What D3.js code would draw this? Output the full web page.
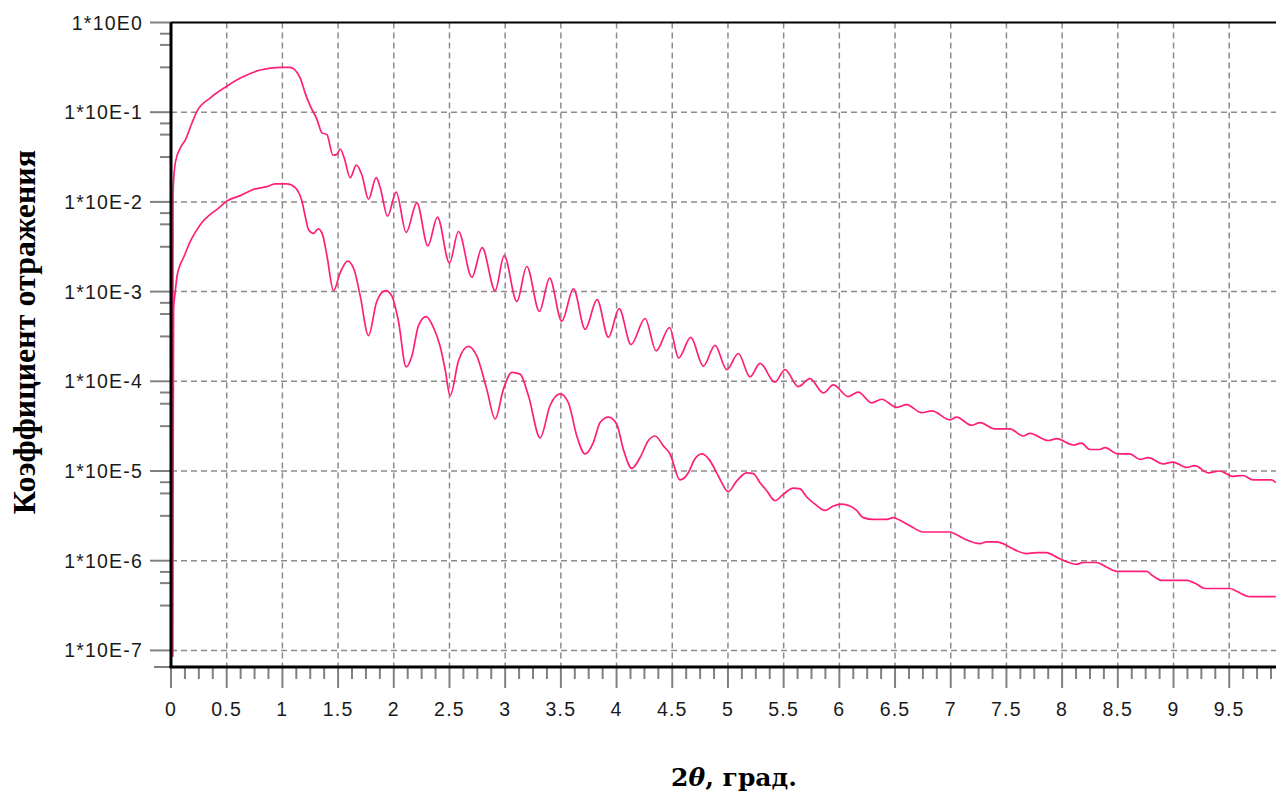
<!DOCTYPE html>
<html>
<head>
<meta charset="utf-8">
<title>Коэффициент отражения</title>
<script src="https://d3js.org/d3.v7.min.js"></script>
<style>
    body { margin: 0; background: #ffffff; }
    .tick-label {
        font-family: "Liberation Sans", Arial, sans-serif;
        font-size: 19.5px;
        letter-spacing: 1.2px;
        fill: #1a1a1a;
    }
    .y-title {
        font-family: "Liberation Serif", "Times New Roman", serif;
        font-weight: bold;
        font-size: 32px;
        fill: #000;
    }
    .x-title {
        font-family: "DejaVu Serif", serif;
        font-weight: bold;
        font-size: 25px;
        fill: #000;
    }
</style>
</head>
<body>
<svg id="chart" width="1276" height="795"></svg>
<script>
// angle 2θ (deg) and log10 of reflectivity
var angleUpper = [0.014,0.018,0.039,0.083,0.128,0.188,0.233,0.353,0.502,0.622,
    0.801,0.981,1.070,1.160,1.205,1.250,1.310,1.355,1.400,1.454,
    1.490,1.519,1.555,1.609,1.663,1.714,1.773,1.842,1.878,1.944,
    2.022,2.111,2.207,2.306,2.392,2.500,2.581,2.701,2.793,2.910,
    2.991,3.105,3.194,3.307,3.399,3.508,3.613,3.718,3.825,3.927,
    4.023,4.130,4.256,4.355,4.476,4.557,4.666,4.779,4.884,4.989,
    5.093,5.198,5.288,5.422,5.512,5.631,5.736,5.856,5.946,6.080,
    6.170,6.290,6.380,6.514,6.604,6.739,6.831,6.993,7.053,7.187,
    7.262,7.396,7.531,7.650,7.711,7.875,7.950,8.099,8.174,8.249,
    8.339,8.384,8.503,8.608,8.698,8.772,8.907,8.996,9.117,9.191,
    9.310,9.415,9.535,9.624,9.714,9.879,9.918];
var lgUpper = [-7.07,-1.90,-1.56,-1.40,-1.31,-1.12,-0.99,-0.84,-0.71,-0.62,
    -0.53,-0.50,-0.50,-0.62,-0.79,-0.93,-1.08,-1.23,-1.25,-1.48,
    -1.47,-1.41,-1.51,-1.73,-1.59,-1.70,-1.97,-1.73,-1.84,-2.16,
    -1.89,-2.34,-2.01,-2.49,-2.17,-2.68,-2.33,-2.84,-2.51,-2.99,
    -2.60,-3.11,-2.72,-3.22,-2.85,-3.33,-2.97,-3.42,-3.09,-3.51,
    -3.19,-3.59,-3.30,-3.66,-3.40,-3.74,-3.51,-3.83,-3.60,-3.87,
    -3.69,-3.95,-3.80,-4.01,-3.87,-4.06,-3.97,-4.13,-4.04,-4.17,
    -4.12,-4.24,-4.20,-4.29,-4.26,-4.35,-4.33,-4.43,-4.40,-4.49,
    -4.46,-4.53,-4.53,-4.61,-4.58,-4.66,-4.64,-4.71,-4.69,-4.76,
    -4.76,-4.74,-4.81,-4.81,-4.87,-4.85,-4.92,-4.90,-4.96,-4.94,
    -5.02,-5.00,-5.06,-5.05,-5.10,-5.10,-5.13];

var angleLower = [0.014,0.023,0.039,0.054,0.077,0.113,0.173,0.218,0.278,0.353,
    0.427,0.502,0.622,0.741,0.861,0.936,1.041,1.115,1.175,1.205,
    1.235,1.280,1.322,1.362,1.400,1.459,1.519,1.585,1.645,1.699,
    1.773,1.847,1.927,1.983,2.042,2.111,2.162,2.222,2.291,2.356,
    2.416,2.461,2.506,2.581,2.670,2.746,2.835,2.910,2.984,3.060,
    3.134,3.209,3.314,3.403,3.493,3.568,3.643,3.718,3.792,3.852,
    3.927,4.002,4.061,4.137,4.211,4.286,4.346,4.420,4.480,4.570,
    4.644,4.696,4.765,4.830,4.899,4.944,5.003,5.079,5.168,5.228,
    5.288,5.348,5.422,5.497,5.587,5.647,5.707,5.781,5.871,5.946,
    6.021,6.095,6.155,6.215,6.304,6.425,6.484,6.544,6.634,6.753,
    6.993,7.053,7.143,7.262,7.322,7.412,7.502,7.561,7.681,7.771,
    7.860,7.950,8.040,8.130,8.189,8.309,8.399,8.489,8.758,8.817,
    8.892,9.117,9.206,9.281,9.505,9.565,9.685,9.918];
var lgLower = [-7.07,-3.20,-2.99,-2.83,-2.72,-2.62,-2.44,-2.34,-2.23,-2.14,
    -2.07,-1.99,-1.93,-1.86,-1.83,-1.80,-1.80,-1.84,-1.99,-2.16,
    -2.31,-2.35,-2.30,-2.37,-2.60,-2.99,-2.79,-2.66,-2.76,-3.05,
    -3.49,-3.11,-2.99,-3.05,-3.33,-3.84,-3.72,-3.38,-3.28,-3.40,
    -3.61,-3.87,-4.16,-3.77,-3.61,-3.72,-4.09,-4.42,-4.09,-3.90,
    -3.92,-4.16,-4.63,-4.27,-4.14,-4.24,-4.61,-4.81,-4.68,-4.46,
    -4.40,-4.48,-4.76,-4.97,-4.85,-4.66,-4.61,-4.72,-4.81,-5.10,
    -5.02,-4.88,-4.81,-4.87,-5.02,-5.13,-5.23,-5.11,-5.02,-5.03,
    -5.13,-5.22,-5.33,-5.26,-5.19,-5.20,-5.29,-5.37,-5.44,-5.39,
    -5.37,-5.39,-5.44,-5.52,-5.54,-5.54,-5.52,-5.55,-5.61,-5.68,
    -5.68,-5.71,-5.77,-5.81,-5.79,-5.79,-5.83,-5.87,-5.92,-5.91,
    -5.91,-5.96,-6.01,-6.04,-6.02,-6.02,-6.07,-6.12,-6.12,-6.17,
    -6.22,-6.22,-6.26,-6.31,-6.31,-6.34,-6.40,-6.40];

var yExponents = [0, -1, -2, -3, -4, -5, -6, -7];
var yTickLabels = ["1*10E0", "1*10E-1", "1*10E-2", "1*10E-3", "1*10E-4", "1*10E-5", "1*10E-6", "1*10E-7"];
var xTickValues = [0, 0.5, 1, 1.5, 2, 2.5, 3, 3.5, 4, 4.5, 5, 5.5, 6, 6.5, 7, 7.5, 8, 8.5, 9, 9.5];
var xTickLabels = ["0", "0.5", "1", "1.5", "2", "2.5", "3", "3.5", "4", "4.5", "5", "5.5", "6", "6.5", "7", "7.5", "8", "8.5", "9", "9.5"];

var margin = { top: 22.5, left: 171 };
var width = 1276 - margin.left;
var height = 667 - margin.top;

var svg = d3.select('#chart');
var g = svg.append('g')
    .attr('transform', 'translate(' + margin.left + ',' + margin.top + ')');

var x = d3.scaleLinear().domain([0, 9.92]).range([0, width]);
var y = d3.scaleLog().domain([Math.pow(10, -7.185), 1]).range([height, 0]);

var gridColor = '#8c8c8c';

// grid
g.selectAll('.vgrid')
    .data(xTickValues.filter(function(d) { return d > 0; }))
    .enter().append('line')
    .attr('x1', function(d) { return x(d); })
    .attr('x2', function(d) { return x(d); })
    .attr('y1', 0).attr('y2', height)
    .style('stroke', gridColor).style('stroke-width', 1.5)
    .style('stroke-dasharray', '6,4');

g.selectAll('.hgrid')
    .data(yExponents.filter(function(d) { return d < 0; }))
    .enter().append('line')
    .attr('x1', 0).attr('x2', width)
    .attr('y1', function(d) { return y(Math.pow(10, d)); })
    .attr('y2', function(d) { return y(Math.pow(10, d)); })
    .style('stroke', gridColor).style('stroke-width', 1.5)
    .style('stroke-dasharray', '6,4');

// y ticks: majors at decades, minors at 1/8, 1/4, 1/2 of a decade below
var yMinor = [];
yExponents.forEach(function(e) {
    if (e > -7) [0.125, 0.25, 0.5].forEach(function(f) { yMinor.push(e - f); });
});
g.selectAll('.ymajor')
    .data(yExponents).enter().append('line')
    .attr('x1', -21).attr('x2', 0)
    .attr('y1', function(d) { return y(Math.pow(10, d)); })
    .attr('y2', function(d) { return y(Math.pow(10, d)); })
    .style('stroke', '#808080').style('stroke-width', 2);
g.selectAll('.yminor')
    .data(yMinor).enter().append('line')
    .attr('x1', -11).attr('x2', 0)
    .attr('y1', function(d) { return y(Math.pow(10, d)); })
    .attr('y2', function(d) { return y(Math.pow(10, d)); })
    .style('stroke', '#808080').style('stroke-width', 2);
g.append('line')
    .attr('x1', -17).attr('x2', 0)
    .attr('y1', height).attr('y2', height)
    .style('stroke', '#808080').style('stroke-width', 2);

g.selectAll('.ylabel')
    .data(yExponents).enter().append('text')
    .attr('class', 'tick-label')
    .attr('x', -28)
    .attr('y', function(d) { return y(Math.pow(10, d)) + 7; })
    .style('text-anchor', 'end')
    .text(function(d, i) { return yTickLabels[i]; });

// x ticks: majors every 0.5, minors every 0.125
var xMinor = d3.range(0, 9.92, 0.125).filter(function(d) { return Math.abs(d * 2 - Math.round(d * 2)) > 1e-6; });
g.selectAll('.xmajor')
    .data(xTickValues).enter().append('line')
    .attr('x1', function(d) { return x(d); })
    .attr('x2', function(d) { return x(d); })
    .attr('y1', height).attr('y2', height + 21)
    .style('stroke', '#808080').style('stroke-width', 2);
g.selectAll('.xminor')
    .data(xMinor).enter().append('line')
    .attr('x1', function(d) { return x(d); })
    .attr('x2', function(d) { return x(d); })
    .attr('y1', height).attr('y2', height + 12)
    .style('stroke', '#808080').style('stroke-width', 2);

g.selectAll('.xlabel')
    .data(xTickValues).enter().append('text')
    .attr('class', 'tick-label')
    .attr('x', function(d) { return x(d); })
    .attr('y', height + 49)
    .style('text-anchor', 'middle')
    .text(function(d, i) { return xTickLabels[i]; });

// curves
g.append('clipPath').attr('id', 'plot-clip')
    .append('rect').attr('x', 0).attr('y', 0).attr('width', width).attr('height', height);

var line = d3.line()
    .x(function(d) { return x(d.a); })
    .y(function(d) { return y(d.r); })
    .curve(d3.curveMonotoneX);

var upper = angleUpper.map(function(a, i) { return { a: a, r: Math.pow(10, lgUpper[i]) }; });
var lower = angleLower.map(function(a, i) { return { a: a, r: Math.pow(10, lgLower[i]) }; });

[upper, lower].forEach(function(series) {
    g.append('path')
        .datum(series)
        .attr('clip-path', 'url(#plot-clip)')
        .attr('d', line)
        .style('fill', 'none')
        .style('stroke', '#ff1f78')
        .style('stroke-width', 1.7);
});

// frame
g.append('line').attr('x1', 0).attr('x2', width).attr('y1', 0).attr('y2', 0)
    .style('stroke', '#000').style('stroke-width', 2);
g.append('line').attr('x1', 0).attr('x2', 0).attr('y1', 0).attr('y2', height)
    .style('stroke', '#000').style('stroke-width', 3);
g.append('line').attr('x1', -1.5).attr('x2', width).attr('y1', height).attr('y2', height)
    .style('stroke', '#000').style('stroke-width', 3);

// titles
svg.append('text')
    .attr('class', 'y-title')
    .attr('transform', 'translate(35,332) rotate(-90)')
    .style('text-anchor', 'middle')
    .text('Коэффициент отражения');

var xt = svg.append('text')
    .attr('class', 'x-title')
    .attr('x', 734)
    .attr('y', 786)
    .style('text-anchor', 'middle');
xt.append('tspan').text('2');
xt.append('tspan').style('font-style', 'italic').text('θ');
xt.append('tspan').text(', град.');
</script>
</body>
</html>
